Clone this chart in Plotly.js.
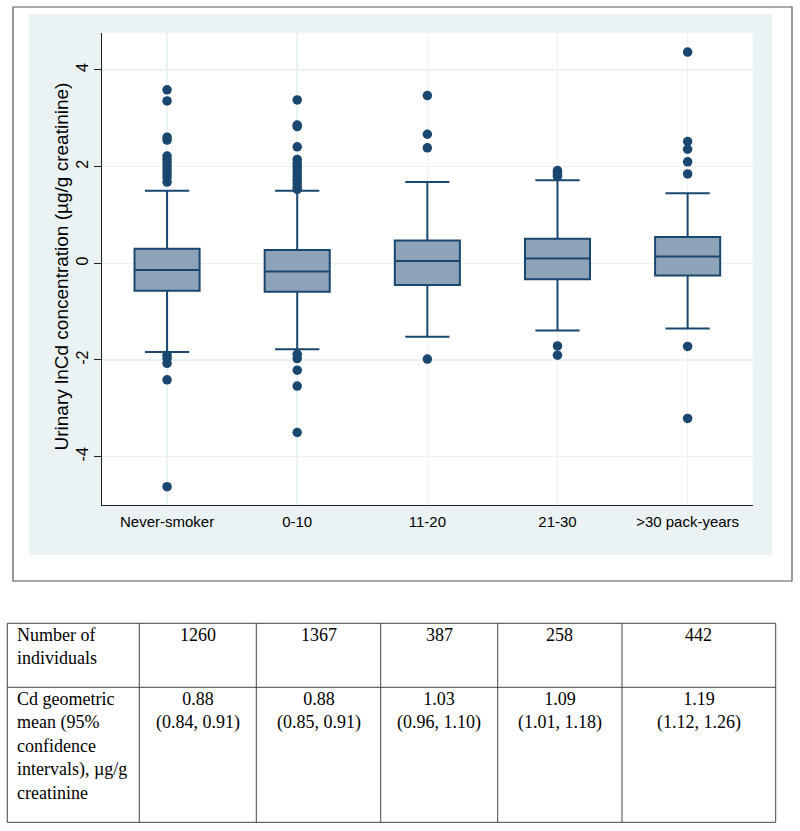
<!DOCTYPE html>
<html>
<head>
<meta charset="utf-8">
<script src="https://cdn.plot.ly/plotly-3.0.1.min.js"></script>
<style>
  html, body { margin: 0; padding: 0; background: #ffffff; }
  #chart { width: 800px; height: 831px; }
</style>
</head>
<body>
<div id="chart"></div>
<script>
// ---------- data ----------
var categories = ["Never-smoker", "0-10", "11-20", "21-30", ">30 pack-years"];
var q1Values     = [-0.57, -0.59, -0.45, -0.33, -0.25];
var medianValues = [-0.14, -0.17,  0.05,  0.10,  0.14];
var q3Values     = [ 0.30,  0.275, 0.47,  0.51,  0.545];
var lowerWhisker = [-1.835, -1.78, -1.52, -1.39, -1.35];
var upperWhisker = [ 1.50,  1.50,  1.68,  1.72,  1.45];

var outliersNever = [3.59, 3.36, 2.61, 2.55, 2.22, 2.15, 2.08, 2.00, 1.93, 1.85, 1.78, 1.68,
                     -1.90, -1.97, -2.07, -2.41, -4.62];
var outliers0to10 = [3.38, 2.86, 2.83, 2.41, 2.15, 2.07, 2.01, 1.93, 1.86, 1.79, 1.72, 1.65, 1.58, 1.53,
                     -1.88, -1.97, -2.21, -2.54, -3.50];
var outliers11to20 = [3.47, 2.67, 2.39, -1.98];
var outliers21to30 = [1.92, 1.88, 1.84, 1.80, -1.71, -1.90];
var outliersOver30 = [4.37, 2.52, 2.36, 2.10, 1.85, -1.72, -3.21];
var outlierGroups = [outliersNever, outliers0to10, outliers11to20, outliers21to30, outliersOver30];

var yTickValues = [-4, -2, 0, 2, 4];
var yTickLabels = ["-4", "-2", "0", "2", "4"];
var yTitle = "Urinary lnCd concentration (µg/g creatinine)";

var tableRowLabels = ["Number of<br>individuals",
                      "Cd geometric<br>mean (95%<br>confidence<br>intervals), µg/g<br>creatinine"];
var tableCounts = ["1260", "1367", "387", "258", "442"];
var tableMeans  = ["0.88", "0.88", "1.03", "1.09", "1.19"];
var tableCIs    = ["(0.84, 0.91)", "(0.85, 0.91)", "(0.96, 1.10)", "(1.01, 1.18)", "(1.12, 1.26)"];

// ---------- helpers ----------
var W = 800, H = 831;
function px(x) { return x / W; }
function py(y) { return 1 - y / H; }
var navy = "#1a476f";

// ---------- traces ----------
var boxTrace = {
  type: "box",
  x: categories,
  q1: q1Values,
  median: medianValues,
  q3: q3Values,
  lowerfence: lowerWhisker,
  upperfence: upperWhisker,
  boxpoints: false,
  width: 0.5,
  whiskerwidth: 0.68,
  fillcolor: "#8ea3b8",
  line: { color: navy, width: 2 },
  hoverinfo: "skip",
  showlegend: false
};

var outX = [], outY = [];
outlierGroups.forEach(function (g, i) {
  g.forEach(function (v) { outX.push(categories[i]); outY.push(v); });
});
var outlierTrace = {
  type: "scatter",
  mode: "markers",
  x: outX,
  y: outY,
  marker: { color: navy, size: 9.5, line: { width: 0 } },
  showlegend: false,
  hoverinfo: "skip"
};

// ---------- table (grid lines + cell text) ----------
var colEdges = [7.3, 139.3, 256.3, 380.7, 497.7, 622, 775.7];
var rowEdges = [623.3, 687.3, 822.3];
var tableFont = { family: "Liberation Serif, Times New Roman, serif", size: 18, color: "#000000" };
var tableLine = { color: "#444444", width: 1 };

var shapes = [
  { type: "rect", xref: "paper", yref: "paper", layer: "below",
    x0: px(13), x1: px(792), y0: py(581), y1: py(7),
    line: { color: "#555555", width: 1.2 }, fillcolor: "#ffffff" },
  { type: "rect", xref: "paper", yref: "paper", layer: "below",
    x0: px(29), x1: px(772), y0: py(555), y1: py(14),
    line: { width: 0 }, fillcolor: "#eaf2f3" },
  { type: "rect", xref: "paper", yref: "paper", layer: "below",
    x0: px(102), x1: px(752.7), y0: py(505), y1: py(32.7),
    line: { width: 0 }, fillcolor: "#ffffff" }
];
colEdges.forEach(function (cx) {
  shapes.push({ type: "line", xref: "paper", yref: "paper",
    x0: px(cx), x1: px(cx), y0: py(rowEdges[0]), y1: py(rowEdges[rowEdges.length - 1]), line: tableLine });
});
rowEdges.forEach(function (ry) {
  shapes.push({ type: "line", xref: "paper", yref: "paper",
    x0: px(colEdges[0]), x1: px(colEdges[colEdges.length - 1]), y0: py(ry), y1: py(ry), line: tableLine });
});

var annotations = [];
var rowTexts = [
  [tableRowLabels[0]].concat(tableCounts),
  [tableRowLabels[1]].concat(tableMeans.map(function (m, i) { return m + "<br>" + tableCIs[i]; }))
];
rowTexts.forEach(function (row, r) {
  row.forEach(function (txt, c) {
    var left = c === 0;
    annotations.push({
      xref: "paper", yref: "paper",
      x: left ? px(colEdges[0] + 8) : px((colEdges[c] + colEdges[c + 1]) / 2),
      y: py(rowEdges[r] - 0.8),
      xanchor: left ? "left" : "center",
      yanchor: "top",
      align: left ? "left" : "center",
      text: txt,
      showarrow: false,
      font: tableFont
    });
  });
});

// y-axis title
annotations.push({
  xref: "paper", yref: "paper",
  x: px(61), y: py(266.5),
  xanchor: "center", yanchor: "middle",
  textangle: -90,
  text: yTitle,
  showarrow: false,
  font: { family: "Liberation Sans, Arial, sans-serif", size: 19, color: "#000000" }
});

var layout = {
  width: W,
  height: H,
  margin: { l: 0, r: 0, t: 0, b: 0 },
  paper_bgcolor: "#ffffff",
  plot_bgcolor: "rgba(0,0,0,0)",
  showlegend: false,
  font: { family: "Liberation Sans, Arial, sans-serif", color: "#000000" },
  xaxis: {
    domain: [px(102), px(752.7)],
    type: "category",
    categoryorder: "array",
    categoryarray: categories,
    range: [-0.5, 4.5],
    showgrid: true,
    gridcolor: "#eaf2f3",
    gridwidth: 1.5,
    showline: true,
    linecolor: "#222222",
    linewidth: 1,
    ticks: "",
    tickfont: { size: 15, color: "#000000" },
    ticklabelstandoff: 3,
    zeroline: false,
    fixedrange: true
  },
  yaxis: {
    domain: [py(505), py(32.7)],
    range: [-5.0, 4.771],
    tickmode: "array",
    tickvals: yTickValues,
    ticktext: yTickLabels,
    tickangle: -90,
    ticks: "outside",
    ticklen: 7,
    tickwidth: 1,
    tickcolor: "#222222",
    tickfont: { size: 16, color: "#000000" },
    showgrid: true,
    gridcolor: "#eaf2f3",
    gridwidth: 1.5,
    showline: true,
    linecolor: "#222222",
    linewidth: 1,
    zeroline: false,
    fixedrange: true
  },
  shapes: shapes,
  annotations: annotations
};

Plotly.newPlot("chart", [boxTrace, outlierTrace], layout, { displayModeBar: false, staticPlot: true });
</script>
</body>
</html>
